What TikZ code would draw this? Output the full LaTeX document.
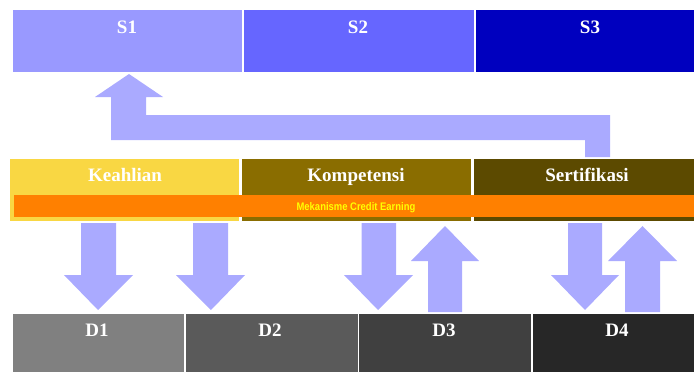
\documentclass[tikz,border=0pt]{standalone}
\usepackage{fontspec}
\usepackage{graphicx}
\setmainfont{Liberation Serif}
\newfontfamily\barfont{Liberation Sans}
\definecolor{sA}{HTML}{9999FF}
\definecolor{sB}{HTML}{6666FF}
\definecolor{sC}{HTML}{0000BF}
\definecolor{kA}{HTML}{F9D743}
\definecolor{kB}{HTML}{8A6D00}
\definecolor{kC}{HTML}{5C4A00}
\definecolor{dA}{HTML}{808080}
\definecolor{dB}{HTML}{5A5A5A}
\definecolor{dC}{HTML}{404040}
\definecolor{dD}{HTML}{272727}
\definecolor{barc}{HTML}{FF8000}
\definecolor{barfg}{HTML}{FFFF00}
\definecolor{arr}{HTML}{AAAAFF}
\begin{document}
\begin{tikzpicture}[x=1pt,y=-1pt,
  box/.style={draw=none,inner sep=0pt,outer sep=0pt,anchor=north west},
  lbl/.style={text=white,font=\bfseries\fontsize{19}{19}\selectfont,inner sep=0pt,anchor=base},
  blk/.style={fill=arr,draw=none}]
\useasboundingbox (0,0) rectangle (694,372);
% top row
\node[box,fill=sA,minimum width=229pt,minimum height=62pt] (s1) at (13,10) {};
\node[box,fill=sB,minimum width=230pt,minimum height=62pt] (s2) at (244,10) {};
\node[box,fill=sC,minimum width=230pt,minimum height=62pt] (s3) at (476,10) {};
\node[lbl] (s1t) at (127,33) {S1};
\node[lbl] (s2t) at (358,33) {S2};
\node[lbl] (s3t) at (590,33) {S3};
% middle row
\node[box,fill=kA,minimum width=229pt,minimum height=62pt] (k1) at (10,159) {};
\node[box,fill=kB,minimum width=229pt,minimum height=62pt] (k2) at (242,159) {};
\node[box,fill=kC,minimum width=230pt,minimum height=62pt] (k3) at (474,159) {};
\node[lbl] (k1t) at (125,181) {Keahlian};
\node[lbl] (k2t) at (356,181) {Kompetensi};
\node[lbl] (k3t) at (587,181) {Sertifikasi};
\node[box,fill=barc,minimum width=692pt,minimum height=22pt] (bar) at (14,195) {};
\node[text=barfg,font=\barfont\bfseries\fontsize{11}{11}\selectfont,inner sep=0pt,anchor=base] (bart) at (356,210) {\scalebox{0.86}[1]{Mekanisme Credit Earning}};
% bottom row
\node[box,fill=dA,minimum width=171pt,minimum height=60pt] (d1) at (13,314) {};
\node[box,fill=dB,minimum width=171.5pt,minimum height=60pt] (d2) at (186,314) {};
\node[box,fill=dC,minimum width=171.5pt,minimum height=60pt] (d3) at (359,314) {};
\node[box,fill=dD,minimum width=172pt,minimum height=60pt] (d4) at (533,314) {};
\node[lbl] (d1t) at (97,336) {D1};
\node[lbl] (d2t) at (270,336) {D2};
\node[lbl] (d3t) at (444,336) {D3};
\node[lbl] (d4t) at (617,336) {D4};
% bent arrow from Sertifikasi to S1
\fill[blk] (585,157) -- (610,157) -- (610,115) -- (146,115) -- (146,97) -- (163,97)
  -- (129,74) -- (95,97) -- (111,97) -- (111,140) -- (585,140) -- cycle;
% down arrows
\foreach \a/\b/\l/\r/\t in {81/116/64/133/98, 193/228/176/245/211, 361.5/396/344/413/378, 568/602/551/619/585}{
  \fill[blk] (\a,223) -- (\b,223) -- (\b,275) -- (\r,275) -- (\t,310) -- (\l,275) -- (\a,275) -- cycle;
}
% up arrows
\foreach \a/\b/\l/\r/\t in {428/462/411/479/445, 625/660/608/677/642.5}{
  \fill[blk] (\a,312) -- (\b,312) -- (\b,261) -- (\r,261) -- (\t,226) -- (\l,261) -- (\a,261) -- cycle;
}
\end{tikzpicture}
\end{document}
